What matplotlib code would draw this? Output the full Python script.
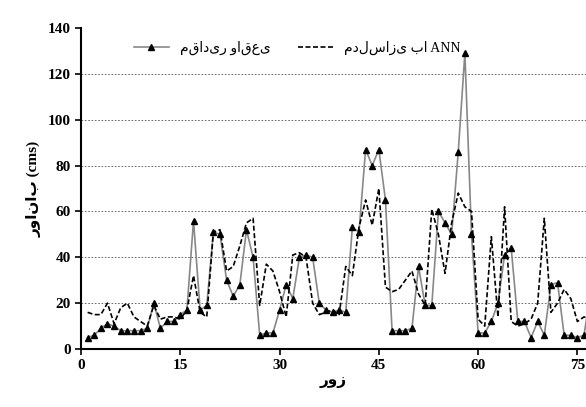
import matplotlib
matplotlib.use("Agg")
import matplotlib.pyplot as plt
import numpy as np

days = list(range(1, 78))
observed = [5,6,9,11,10,8,8,8,8,9,20,9,12,12,15,17,56,17,19,51,50,30,23,28,52,40,6,7,7,17,
            28,22,40,41,40,20,17,16,17,16,53,51,87,80,87,65,8,8,8,9,36,19,19,60,55,50,86,129,50,7,
            7,12,20,41,44,12,12,5,12,6,28,29,6,6,5,6,25]
ann = [16,15,15,20,11,18,20,14,12,10,19,13,14,14,13,17,32,16,14,51,52,34,36,45,55,57,19,37,34,25,
       14,41,42,40,20,15,16,17,15,36,32,53,65,54,70,27,25,26,30,34,24,19,61,50,33,55,68,62,60,13,
       10,49,14,62,12,10,11,13,20,57,16,20,26,22,12,14,13]
xticks = [0, 15, 30, 45, 60, 75]
yticks = [0, 20, 40, 60, 80, 100, 120, 140]

plt.rcParams['font.family'] = ['Liberation Serif', 'DejaVu Sans']
fig = plt.figure(figsize=(5.86, 4.07), dpi=100)
ax = fig.add_axes([81/586, 1-349/407, 1-81/586, 321/407])
ax.plot(days, observed, color='#888888', lw=1.2, marker='^', ms=3.8, mfc='black', mec='black',
        label='مقادیر واقعی')
ax.plot(days, ann, color='black', lw=1.2, ls=(0, (3, 1.5)), label='مدلسازی با ANN')
ax.set_xlim(0, 76.3)
ax.set_ylim(0, 140)
ax.set_xticks(xticks)
ax.set_yticks(yticks)
ax.tick_params(labelsize=11, direction='out', length=4, width=1.2)
for lab in ax.get_xticklabels() + ax.get_yticklabels():
    lab.set_fontweight('bold')
ax.yaxis.grid(True, ls=(0, (2, 2)), color='#555555', lw=0.6)
gl = ax.get_ygridlines()
gl[0].set_visible(False)
gl[-1].set_visible(False)
ax.spines['top'].set_visible(False)
ax.spines['right'].set_visible(False)
for s in ('left', 'bottom'):
    ax.spines[s].set_linewidth(1.5)
ax.set_xlabel('روز', fontsize=11, fontweight='bold', labelpad=2)
ax.set_ylabel('رواناب (cms)', fontsize=11, fontweight='bold')
ax.legend(loc='upper left', ncol=2, frameon=False, fontsize=10, bbox_to_anchor=(0.08, 1.0),
          handlelength=2.5)
fig.savefig('out.png', dpi=100)
